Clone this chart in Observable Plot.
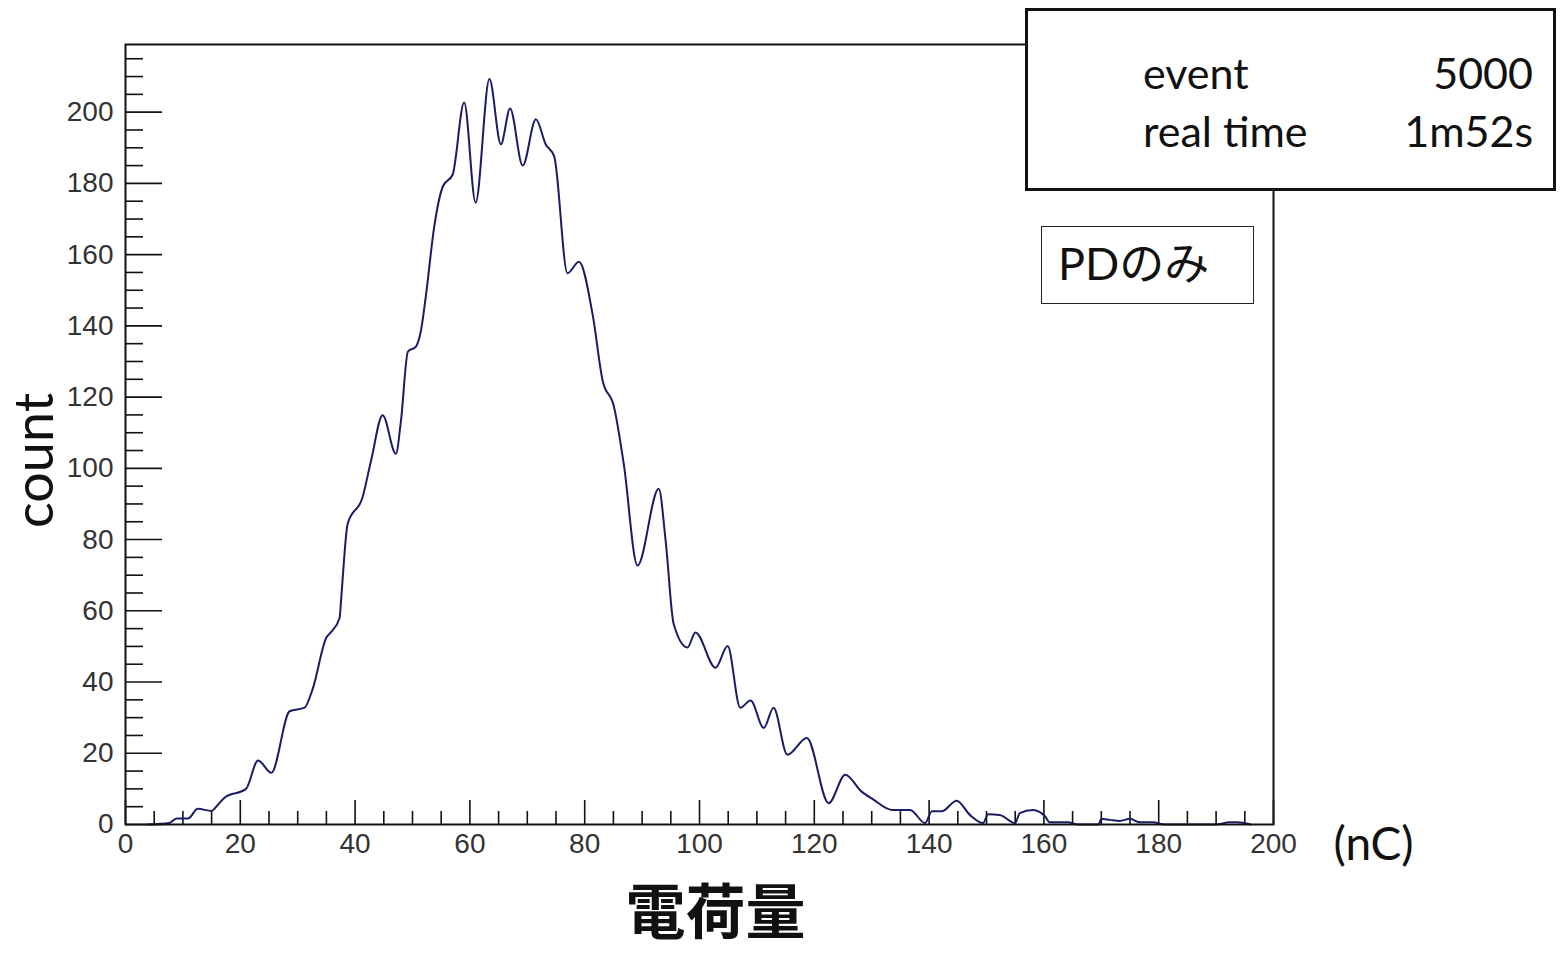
<!DOCTYPE html>
<html>
<head>
<meta charset="utf-8">
<script src="https://cdn.jsdelivr.net/npm/d3@7"></script>
<script src="https://cdn.jsdelivr.net/npm/@observablehq/plot@0.6"></script>
<style>
  body { margin: 0; background: #fff; }
  #wrap { position: relative; width: 1560px; height: 956px; overflow: hidden; }
  .box { position: absolute; background: #fff; box-sizing: border-box; font-family: Lato, "Noto Sans CJK JP", sans-serif; color: #111; }
  #stats { left: 1025px; top: 8px; width: 531px; height: 183px; border: 3px solid #111; }
  #stats .row { position: absolute; left: 115px; right: 20px; display: flex; justify-content: space-between; font-size: 43px; line-height: 1; }
  #tag { left: 1041px; top: 226px; width: 213px; height: 78px; border: 1.5px solid #222; font-size: 45px; padding: 14px 0 0 16px; line-height: 1; }
</style>
</head>
<body>
<div id="wrap">
  <div id="chart"></div>
  <div class="box" id="stats"></div>
  <div class="box" id="tag"></div>
</div>
<script>
// Charge spectrum (nC) – histogram contour, counts per bin
const charge = [4, 7.6, 8.9, 10.9, 12.6, 15, 15.8, 17.3, 21, 23.1, 25.4, 28.6, 31.2, 32.6, 35, 35.8, 37.3, 37.6, 38.7, 41.3,
  42.8, 44.8, 47.1, 48, 49.2, 50.6, 51.5, 52.3, 53.8, 55.3, 57, 59, 61, 63.4, 65.4, 67, 69.2, 71.5, 73.2, 74.7,
  77, 79, 81.4, 83.1, 85.1, 86.8, 89.2, 92.9, 94.1, 95.5, 97.9, 99.3, 102.8, 104.9, 107.1, 108.9, 111.2, 112.9, 115.3, 118.7,
  122.5, 125.4, 128.2, 130.3, 133.5, 136.7, 139.3, 140.5, 142.2, 144.8, 147.1, 149.4, 150.3, 152.3, 155, 155.8, 158.1, 160.2, 161, 164.2,
  166, 169.5, 170, 171.5, 173.2, 175, 176.7, 179, 181, 190, 192.3, 193.7, 196];
const counts = [0, 0.4, 1.7, 1.7, 4.4, 3.8, 5, 7.6, 10, 18, 14.5, 31.8, 32.8, 38, 52.5, 54, 58, 64, 84.4, 91.9,
  102.3, 114.9, 104.1, 113.5, 132.8, 134.2, 138.9, 148, 168, 179.2, 182.5, 202.7, 174.6, 209.3, 191, 201, 185, 198, 191, 187.5,
  154.8, 158, 143, 124.8, 117.3, 101.3, 72.7, 94.3, 79.7, 56.3, 49.7, 53.9, 44, 50.1, 32.8, 34.8, 27.1, 32.8, 19.6, 24.3,
  6, 14, 9.3, 7, 4.1, 4.1, 0.4, 3.7, 3.7, 6.7, 2.7, 0.4, 2.9, 2.7, 0.4, 3.2, 4.1, 2.3, 0.6, 0.6,
  0, 0, 1.6, 1.3, 1, 1.6, 0.6, 0.6, 0, 0, 0.6, 0.6, 0];

const xMajor = [0, 20, 40, 60, 80, 100, 120, 140, 160, 180, 200];
const xMinor = d3.range(5, 200, 5).filter(v => v % 20 !== 0);
const yMajor = [0, 20, 40, 60, 80, 100, 120, 140, 160, 180, 200];
const yMinor = d3.range(5, 219, 5).filter(v => v % 20 !== 0);

const statsRows = [["event", "5000"], ["real time", "1m52s"]];
const tagText = "PDのみ";
const yTitle = "count";
const xTitle = "電荷量";
const xUnit = "(nC)";

const spectrum = charge.map((c, i) => ({charge: c, count: counts[i]}));

const W = 1560, H = 956;
const mL = 125, mR = 287, mT = 44, mB = 132;
const frameW = W - mL - mR, frameH = H - mT - mB;
const ink = "#111";
const tickFont = "'Liberation Sans', Arial, sans-serif";

const chart = Plot.plot({
  width: W,
  height: H,
  marginLeft: mL,
  marginRight: mR,
  marginTop: mT,
  marginBottom: mB,
  style: {background: "#fff", overflow: "visible"},
  x: {domain: [0, 200]},
  y: {domain: [0, 219]},
  marks: [
    // inward ticks along the bottom and left edges
    Plot.tickX(xMajor, {x: d => d, insetTop: frameH - 24, stroke: ink, strokeWidth: 1.6}),
    Plot.tickX(xMinor, {x: d => d, insetTop: frameH - 13, stroke: ink, strokeWidth: 1.6}),
    Plot.tickY(yMajor, {y: d => d, insetRight: frameW - 37, stroke: ink, strokeWidth: 1.6}),
    Plot.tickY(yMinor, {y: d => d, insetRight: frameW - 18, stroke: ink, strokeWidth: 1.6}),
    Plot.axisX({ticks: xMajor, tickSize: 0, tickPadding: 9, label: null, fontSize: 28, fontFamily: tickFont, color: "#333"}),
    Plot.axisY({ticks: yMajor, tickSize: 0, tickPadding: 12, label: null, fontSize: 28, fontFamily: tickFont, color: "#333"}),
    Plot.line(spectrum, {x: "charge", y: "count", curve: "monotone-x", stroke: "#1c1c66", strokeWidth: 2}),
    Plot.frame({stroke: ink, strokeWidth: 2}),
    // titles
    Plot.text([yTitle], {frameAnchor: "left", text: d => d, textAnchor: "middle", lineAnchor: "middle", rotate: -90, dx: -90, dy: 26, fontSize: 54, fontFamily: "Lato, sans-serif", fill: ink}),
    Plot.text([xTitle], {frameAnchor: "bottom", text: d => d, textAnchor: "middle", lineAnchor: "middle", dx: 16, dy: 90, fontSize: 60, fontWeight: "bold", fontFamily: "'Noto Sans CJK JP', sans-serif", fill: ink}),
    Plot.text([xUnit], {frameAnchor: "bottom-right", text: d => d, textAnchor: "start", lineAnchor: "middle", dx: 60, dy: 21, fontSize: 46, fontFamily: "Lato, sans-serif", fill: ink})
  ]
});
document.getElementById("chart").appendChild(chart);

const stats = document.getElementById("stats");
statsRows.forEach(([k, v], i) => {
  const row = document.createElement("div");
  row.className = "row";
  row.style.top = (40 + i * 58) + "px";
  row.innerHTML = `<span>${k}</span><span>${v}</span>`;
  stats.appendChild(row);
});
document.getElementById("tag").textContent = tagText;
</script>
</body>
</html>
